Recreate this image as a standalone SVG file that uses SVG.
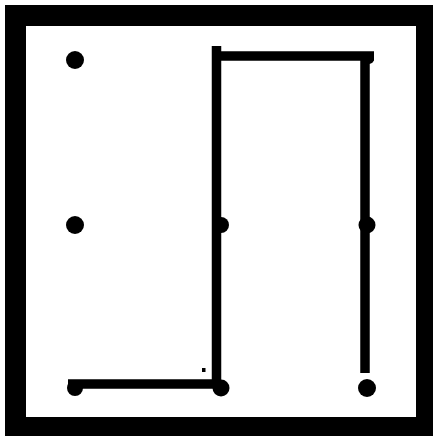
<svg xmlns="http://www.w3.org/2000/svg" width="433" height="436" viewBox="0 0 433 436">
<style>
.dot{fill:#000}
.wire{stroke:#000;stroke-width:9.5;fill:none;stroke-linecap:butt}
</style>
<rect x="0" y="0" width="433" height="436" fill="#fff"/>
<rect id="frame" x="15.5" y="15.5" width="411" height="412" fill="none" stroke="#000" stroke-width="21"/>
<g id="connectors">
<path class="wire" d="M216.5,46 V388"/>
<path class="wire" d="M212,56 H374"/>
<path class="wire" d="M365,52 V373"/>
<path class="wire" d="M68,384 H221"/>
<rect x="202" y="368" width="3.5" height="4" fill="#000"/>
</g>
<g id="n1"><circle class="dot" cx="75" cy="60" r="9"/></g>
<g id="n2"><circle class="dot" cx="75" cy="225" r="9"/></g>
<g id="n3"><circle class="dot" cx="75" cy="388" r="8"/></g>
<g id="n4"><circle class="dot" cx="221" cy="225" r="8"/></g>
<g id="n5"><circle class="dot" cx="221" cy="388" r="8.5"/></g>
<g id="n6"><circle class="dot" cx="367" cy="225" r="8.5"/></g>
<g id="n7"><circle class="dot" cx="367" cy="388" r="9"/></g>
<g id="n8"><circle class="dot" cx="369" cy="59" r="5"/></g>
</svg>
